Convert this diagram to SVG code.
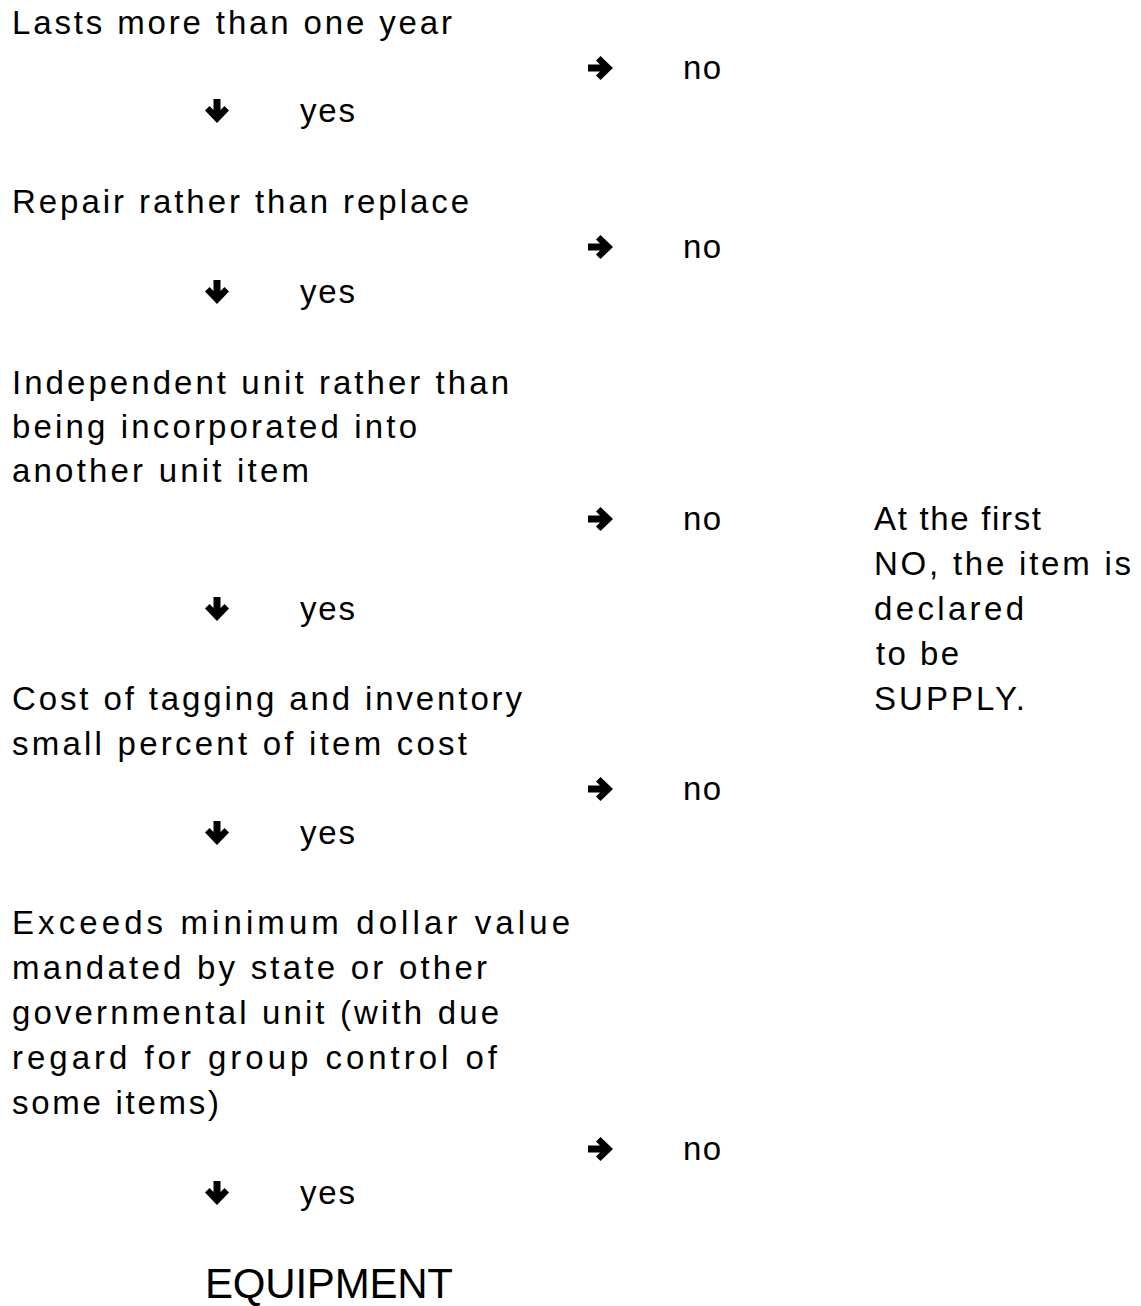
<svg xmlns="http://www.w3.org/2000/svg" xmlns:xlink="http://www.w3.org/1999/xlink" width="1141" height="1306" viewBox="0 0 1141 1306">
<style>
text{font-family:"Liberation Sans",Arial,sans-serif;font-size:33px;fill:#000;letter-spacing:3px}
.big{font-size:42px;letter-spacing:0}
</style>
<defs>
<path id="dn" d="M-3.5,-12 H3.5 V-1 L7.5,-5 L12,-0.5 L0,12 L-12,-0.5 L-7.5,-5 L-3.5,-1 Z" fill="#000"/>
<path id="rt" d="M-13,-3.5 H-1 L-5,-7.5 L-0.5,-12 L12,0 L-0.5,12 L-5,7.5 L-1,3.5 H-13 Z" fill="#000"/>
</defs>
<rect width="1141" height="1306" fill="#fff"/>
<g id="q1">
<text x="12" y="34" textLength="443" lengthAdjust="spacing">Lasts more than one year</text>
</g>
<g id="q2">
<text x="12" y="213" textLength="460" lengthAdjust="spacing">Repair rather than replace</text>
</g>
<g id="q3">
<text x="12" y="394" textLength="500" lengthAdjust="spacing">Independent unit rather than</text>
<text x="12" y="438" textLength="408" lengthAdjust="spacing">being incorporated into</text>
<text x="12" y="482" textLength="300" lengthAdjust="spacing">another unit item</text>
</g>
<g id="q4">
<text x="12" y="710" textLength="513" lengthAdjust="spacing">Cost of tagging and inventory</text>
<text x="12" y="755" textLength="458" lengthAdjust="spacing">small percent of item cost</text>
</g>
<g id="q5">
<text x="12" y="934" textLength="561" lengthAdjust="spacing">Exceeds minimum dollar value</text>
<text x="12" y="979" textLength="478" lengthAdjust="spacing">mandated by state or other</text>
<text x="12" y="1024" textLength="490" lengthAdjust="spacing">governmental unit (with due</text>
<text x="12" y="1069" textLength="488" lengthAdjust="spacing">regard for group control of</text>
<text x="12" y="1114" textLength="210" lengthAdjust="spacing">some items)</text>
</g>
<g id="supply">
<text x="874" y="530" textLength="170" lengthAdjust="spacing">At the first</text>
<text x="874" y="575" textLength="260" lengthAdjust="spacing">NO, the item is</text>
<text x="874" y="620" textLength="153" lengthAdjust="spacing">declared</text>
<text x="876" y="665" textLength="86" lengthAdjust="spacing">to be</text>
<text x="874" y="710" textLength="154" lengthAdjust="spacing">SUPPLY.</text>
</g>
<g id="equipment">
<text class="big" x="205" y="1298" textLength="248" lengthAdjust="spacing">EQUIPMENT</text>
</g>
<g id="connectors">
<use xlink:href="#dn" href="#dn" x="217" y="111"/>
<use xlink:href="#dn" href="#dn" x="217" y="292"/>
<use xlink:href="#dn" href="#dn" x="217" y="609"/>
<use xlink:href="#dn" href="#dn" x="217" y="833"/>
<use xlink:href="#dn" href="#dn" x="217" y="1193"/>
<use xlink:href="#rt" href="#rt" x="601" y="68"/>
<use xlink:href="#rt" href="#rt" x="601" y="247"/>
<use xlink:href="#rt" href="#rt" x="601" y="519"/>
<use xlink:href="#rt" href="#rt" x="601" y="789"/>
<use xlink:href="#rt" href="#rt" x="601" y="1149"/>
<text x="300" y="122" textLength="58" lengthAdjust="spacing">yes</text>
<text x="300" y="303" textLength="58" lengthAdjust="spacing">yes</text>
<text x="300" y="620" textLength="58" lengthAdjust="spacing">yes</text>
<text x="300" y="844" textLength="58" lengthAdjust="spacing">yes</text>
<text x="300" y="1204" textLength="58" lengthAdjust="spacing">yes</text>
<text x="683" y="79" textLength="41" lengthAdjust="spacing">no</text>
<text x="683" y="258" textLength="41" lengthAdjust="spacing">no</text>
<text x="683" y="530" textLength="41" lengthAdjust="spacing">no</text>
<text x="683" y="800" textLength="41" lengthAdjust="spacing">no</text>
<text x="683" y="1160" textLength="41" lengthAdjust="spacing">no</text>
</g>
</svg>
